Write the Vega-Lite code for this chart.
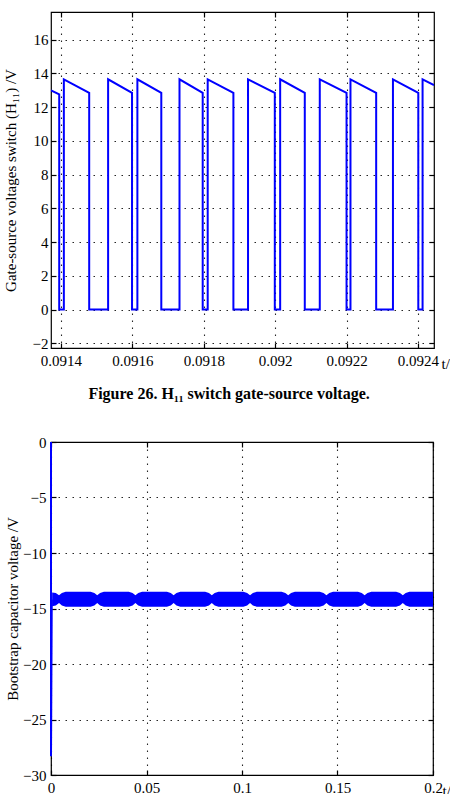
{
  "$schema": "https://vega.github.io/schema/vega-lite/v6.json",
  "background": "white",
  "padding": {"left": 2, "top": 10, "right": 0, "bottom": 0},
  "config": {
    "view": {"stroke": "#000", "strokeWidth": 1.2},
    "axis": {
      "labelFont": "Liberation Serif", "labelFontSize": 15, "labelColor": "#000",
      "titleFont": "Liberation Serif", "titleFontSize": 15, "titleFontWeight": "normal", "titleColor": "#000",
      "labelFlush": false, "labelOverlap": false,
      "gridColor": "#000", "gridDash": [1.5, 5.5], "gridOpacity": 0.85, "gridWidth": 1.1,
      "domain": false, "tickColor": "#000", "tickWidth": 1.2
    }
  },
  "datasets": {
    "gate": [
      {"t": 0.091372, "v": 13.0}, {"t": 0.091395, "v": 12.75}, {"t": 0.091395, "v": 0},
      {"t": 0.091408, "v": 0}, {"t": 0.091408, "v": 13.65}, {"t": 0.091479, "v": 12.85}, {"t": 0.091479, "v": 0},
      {"t": 0.091532, "v": 0}, {"t": 0.091532, "v": 13.65}, {"t": 0.091599, "v": 12.85}, {"t": 0.091599, "v": 0},
      {"t": 0.091614, "v": 0}, {"t": 0.091614, "v": 13.65}, {"t": 0.091681, "v": 12.85}, {"t": 0.091681, "v": 0},
      {"t": 0.091732, "v": 0}, {"t": 0.091732, "v": 13.65}, {"t": 0.091797, "v": 12.85}, {"t": 0.091797, "v": 0},
      {"t": 0.091811, "v": 0}, {"t": 0.091811, "v": 13.65}, {"t": 0.091883, "v": 12.85}, {"t": 0.091883, "v": 0},
      {"t": 0.091924, "v": 0}, {"t": 0.091924, "v": 13.65}, {"t": 0.091999, "v": 12.85}, {"t": 0.091999, "v": 0},
      {"t": 0.092014, "v": 0}, {"t": 0.092014, "v": 13.65}, {"t": 0.092083, "v": 12.85}, {"t": 0.092083, "v": 0},
      {"t": 0.092125, "v": 0}, {"t": 0.092125, "v": 13.65}, {"t": 0.0922, "v": 12.85}, {"t": 0.0922, "v": 0},
      {"t": 0.092211, "v": 0}, {"t": 0.092211, "v": 13.65}, {"t": 0.092283, "v": 12.85}, {"t": 0.092283, "v": 0},
      {"t": 0.09233, "v": 0}, {"t": 0.09233, "v": 13.65}, {"t": 0.092401, "v": 12.85}, {"t": 0.092401, "v": 0},
      {"t": 0.092413, "v": 0}, {"t": 0.092413, "v": 13.65}, {"t": 0.092445, "v": 13.3}
    ],
    "band": [
      {"t": 0.0006, "hi": -13.55, "lo": -14.8}, {"t": 0.0025, "hi": -13.6, "lo": -14.72},
      {"t": 0.0042, "hi": -13.8, "lo": -14.5}, {"t": 0.0057, "hi": -13.6, "lo": -14.72}, {"t": 0.0077, "hi": -13.5, "lo": -14.85}, {"t": 0.0207, "hi": -13.5, "lo": -14.85}, {"t": 0.0227, "hi": -13.6, "lo": -14.72},
      {"t": 0.0242, "hi": -13.8, "lo": -14.5}, {"t": 0.0257, "hi": -13.6, "lo": -14.72}, {"t": 0.0277, "hi": -13.5, "lo": -14.85}, {"t": 0.0407, "hi": -13.5, "lo": -14.85}, {"t": 0.0427, "hi": -13.6, "lo": -14.72},
      {"t": 0.0442, "hi": -13.8, "lo": -14.5}, {"t": 0.0457, "hi": -13.6, "lo": -14.72}, {"t": 0.0477, "hi": -13.5, "lo": -14.85}, {"t": 0.0607, "hi": -13.5, "lo": -14.85}, {"t": 0.0627, "hi": -13.6, "lo": -14.72},
      {"t": 0.0642, "hi": -13.8, "lo": -14.5}, {"t": 0.0657, "hi": -13.6, "lo": -14.72}, {"t": 0.0677, "hi": -13.5, "lo": -14.85}, {"t": 0.0807, "hi": -13.5, "lo": -14.85}, {"t": 0.0827, "hi": -13.6, "lo": -14.72},
      {"t": 0.0842, "hi": -13.8, "lo": -14.5}, {"t": 0.0857, "hi": -13.6, "lo": -14.72}, {"t": 0.0877, "hi": -13.5, "lo": -14.85}, {"t": 0.1007, "hi": -13.5, "lo": -14.85}, {"t": 0.1027, "hi": -13.6, "lo": -14.72},
      {"t": 0.1042, "hi": -13.8, "lo": -14.5}, {"t": 0.1057, "hi": -13.6, "lo": -14.72}, {"t": 0.1077, "hi": -13.5, "lo": -14.85}, {"t": 0.1207, "hi": -13.5, "lo": -14.85}, {"t": 0.1227, "hi": -13.6, "lo": -14.72},
      {"t": 0.1242, "hi": -13.8, "lo": -14.5}, {"t": 0.1257, "hi": -13.6, "lo": -14.72}, {"t": 0.1277, "hi": -13.5, "lo": -14.85}, {"t": 0.1407, "hi": -13.5, "lo": -14.85}, {"t": 0.1427, "hi": -13.6, "lo": -14.72},
      {"t": 0.1442, "hi": -13.8, "lo": -14.5}, {"t": 0.1457, "hi": -13.6, "lo": -14.72}, {"t": 0.1477, "hi": -13.5, "lo": -14.85}, {"t": 0.1607, "hi": -13.5, "lo": -14.85}, {"t": 0.1627, "hi": -13.6, "lo": -14.72},
      {"t": 0.1642, "hi": -13.8, "lo": -14.5}, {"t": 0.1657, "hi": -13.6, "lo": -14.72}, {"t": 0.1677, "hi": -13.5, "lo": -14.85}, {"t": 0.1807, "hi": -13.5, "lo": -14.85}, {"t": 0.1827, "hi": -13.6, "lo": -14.72},
      {"t": 0.1842, "hi": -13.8, "lo": -14.5}, {"t": 0.1857, "hi": -13.6, "lo": -14.72}, {"t": 0.1877, "hi": -13.5, "lo": -14.85}, {"t": 0.2, "hi": -13.5, "lo": -14.85}
    ],
    "spike": [
      {"t": 0, "v": 0}, {"t": 0, "v": -28.3}, {"t": 0.0004, "v": -14.2}
    ]
  },
  "concat": [
    {
      "width": 383,
      "height": 336,
      "title": {"text": "Figure 26. H₁₁ switch gate-source voltage.", "orient": "bottom", "font": "Liberation Serif", "fontSize": 16, "fontWeight": "bold", "color": "#000", "offset": 15, "anchor": "middle", "frame": "bounds", "dx": 0},
      "data": {"name": "gate"},
      "layer": [
        {
          "mark": {"type": "line", "color": "#0000ff", "strokeWidth": 2, "clip": true},
          "encoding": {
            "x": {"field": "t", "type": "quantitative",
              "scale": {"domain": [0.091372, 0.092445], "nice": false, "zero": false},
              "axis": {"orient": "bottom", "values": [0.0914, 0.0916, 0.0918, 0.092, 0.0922, 0.0924], "format": ".4~f", "grid": true, "tickSize": -5, "labelPadding": 10,
                "labelFont": "Liberation Serif",
                "title": "t/s", "titleX": 390, "titleY": 15, "titleAlign": "left", "titleBaseline": "middle", "titleAngle": 0}},
            "y": {"field": "v", "type": "quantitative",
              "scale": {"domain": [-2.28, 17.64], "nice": false, "zero": false},
              "axis": {"orient": "left", "values": [-2, 0, 2, 4, 6, 8, 10, 12, 14, 16], "grid": true, "tickSize": -5, "labelPadding": 8,
                "labelFont": "Liberation Serif",
                "title": "Gate-source voltages switch (H₁₁) /V", "titlePadding": 14}},
            "order": {"value": null}
          }
        },
        {
          "mark": {"type": "line", "strokeOpacity": 0},
          "encoding": {
            "x": {"field": "t", "type": "quantitative", "axis": {"orient": "top", "labels": false, "grid": false, "tickSize": -5, "title": null, "values": [0.0914, 0.0916, 0.0918, 0.092, 0.0922, 0.0924]}},
            "y": {"field": "v", "type": "quantitative", "axis": {"orient": "right", "labels": false, "grid": false, "tickSize": -5, "title": null, "values": [-2, 0, 2, 4, 6, 8, 10, 12, 14, 16]}},
            "order": {"value": null}
          }
        }
      ],
      "resolve": {"axis": {"x": "independent", "y": "independent"}}
    },
    {
      "width": 382,
      "height": 333,
      "layer": [
        {
          "data": {"name": "band"},
          "mark": {"type": "area", "color": "#0000ff", "opacity": 1, "clip": true},
          "encoding": {
            "x": {"field": "t", "type": "quantitative",
              "scale": {"domain": [0, 0.2], "nice": false, "zero": false},
              "axis": {"orient": "bottom", "values": [0, 0.05, 0.1, 0.15, 0.2], "format": "~g", "grid": true, "tickSize": -5, "labelPadding": 10,
                "labelFont": "Liberation Serif",
                "title": "t/s", "titleX": 391, "titleY": 15, "titleAlign": "left", "titleBaseline": "middle", "titleAngle": 0}},
            "y": {"field": "hi", "type": "quantitative",
              "scale": {"domain": [-30, 0], "nice": false, "zero": false},
              "axis": {"orient": "left", "values": [-30, -25, -20, -15, -10, -5, 0], "grid": true, "tickSize": -5, "labelPadding": 10,
                "labelFont": "Liberation Serif",
                "title": "Bootstrap capacitor voltage /V", "titlePadding": 2}},
            "y2": {"field": "lo"}
          }
        },
        {
          "data": {"name": "spike"},
          "mark": {"type": "line", "color": "#0000ff", "strokeWidth": 2, "clip": false},
          "encoding": {
            "x": {"field": "t", "type": "quantitative", "axis": null},
            "y": {"field": "v", "type": "quantitative", "axis": null},
            "order": {"value": null}
          }
        },
        {
          "data": {"name": "spike"},
          "mark": {"type": "line", "strokeOpacity": 0},
          "encoding": {
            "x": {"field": "t", "type": "quantitative", "axis": {"orient": "top", "labels": false, "grid": false, "tickSize": -5, "title": null, "values": [0, 0.05, 0.1, 0.15, 0.2]}},
            "y": {"field": "v", "type": "quantitative", "axis": {"orient": "right", "labels": false, "grid": false, "tickSize": -5, "title": null, "values": [-30, -25, -20, -15, -10, -5, 0]}},
            "order": {"value": null}
          }
        }
      ],
      "resolve": {"axis": {"x": "independent", "y": "independent"}}
    }
  ],
  "columns": 1,
  "align": "none",
  "spacing": 31
}
